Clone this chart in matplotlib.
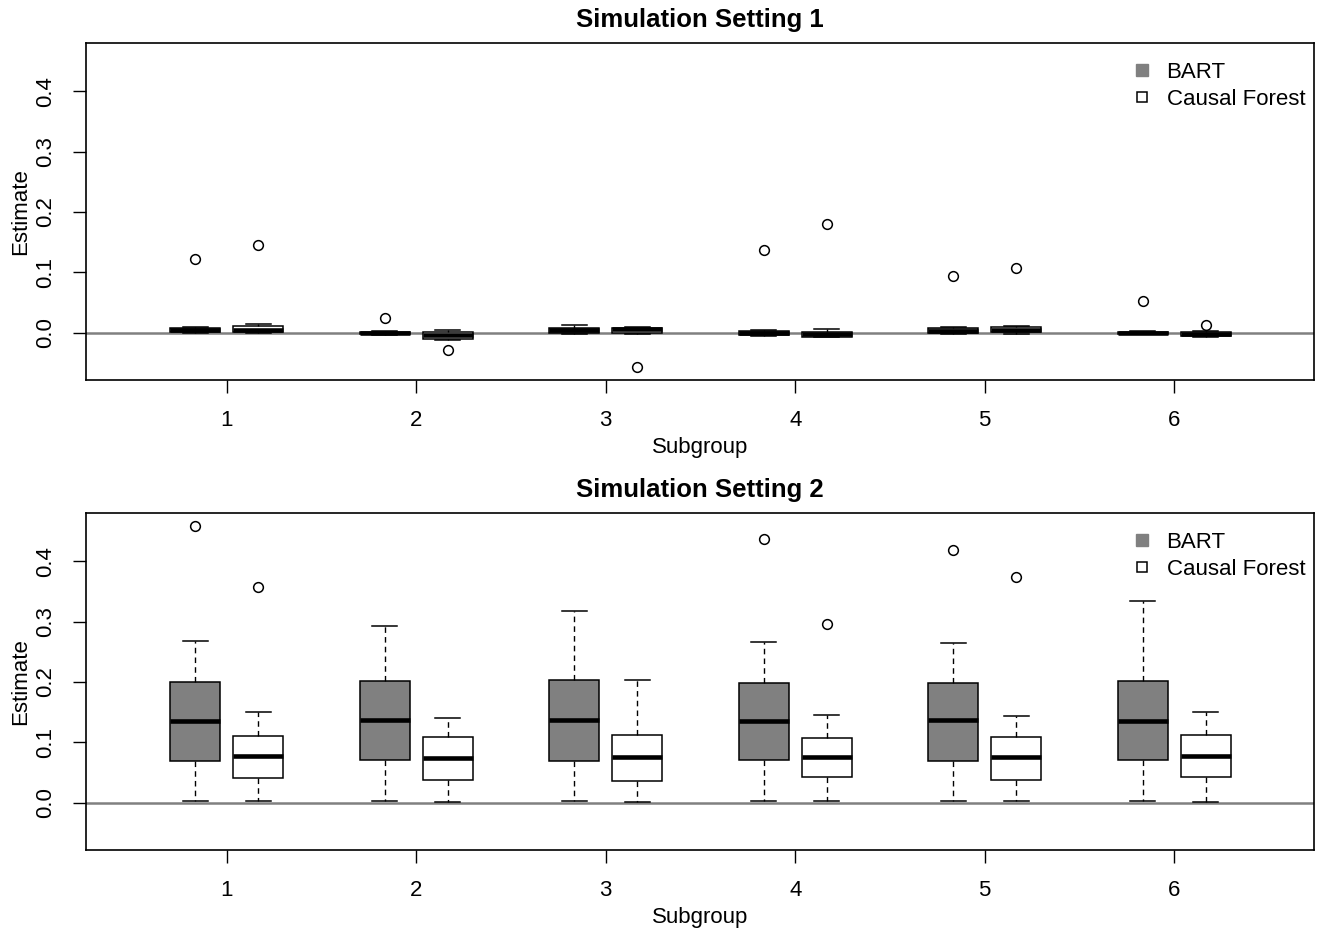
"""Boxplots of subgroup effect estimates for BART and Causal Forest in two simulation settings."""

import matplotlib

matplotlib.use("Agg")
import matplotlib.pyplot as plt
from matplotlib.lines import Line2D

plt.rcParams["font.family"] = ["Liberation Sans", "DejaVu Sans"]

SUBGROUPS = [1, 2, 3, 4, 5, 6]
TITLES = ["Simulation Setting 1", "Simulation Setting 2"]
METHODS = ["BART", "Causal Forest"]
Y_TICKS = [0.0, 0.1, 0.2, 0.3, 0.4]

# five-number summaries per subgroup: (lower whisker, Q1, median, Q3, upper whisker)
S1_BART_FIVENUM = [
    (-0.001, 0.001, 0.004, 0.008, 0.010),
    (-0.004, -0.002, -0.0005, 0.001, 0.003),
    (-0.002, 0.000, 0.0045, 0.008, 0.013),
    (-0.005, -0.004, -0.001, 0.003, 0.004),
    (-0.002, -0.001, 0.003, 0.007, 0.009),
    (-0.002, -0.0017, 0.000, 0.0017, 0.002),
]
S1_CF_FIVENUM = [
    (-0.001, 0.001, 0.005, 0.011, 0.015),
    (-0.013, -0.010, -0.004, 0.001, 0.004),
    (-0.002, 0.000, 0.0056, 0.008, 0.009),
    (-0.0077, -0.0066, -0.0017, 0.0017, 0.0056),
    (-0.0017, 0.0006, 0.005, 0.0094, 0.0105),
    (-0.0072, -0.006, -0.0017, 0.0011, 0.0028),
]
S1_BART_OUTLIERS = [[0.1226], [0.0238], [], [0.1365], [0.094], [0.0525]]
S1_CF_OUTLIERS = [[0.1448], [-0.0292], [-0.0568], [0.1806], [0.1067], [0.0122]]

S2_BART_FIVENUM = [
    (0.0033, 0.0696, 0.1354, 0.2005, 0.2677),
    (0.0033, 0.0708, 0.1376, 0.2017, 0.2928),
    (0.0033, 0.0691, 0.1376, 0.2038, 0.3171),
    (0.0033, 0.0708, 0.1354, 0.1983, 0.2657),
    (0.0033, 0.0691, 0.1370, 0.1989, 0.2641),
    (0.0030, 0.0708, 0.1359, 0.2022, 0.3347),
]
S2_CF_FIVENUM = [
    (0.0023, 0.0414, 0.0779, 0.1100, 0.1508),
    (0.0017, 0.0376, 0.0741, 0.1083, 0.1409),
    (0.0017, 0.0365, 0.0763, 0.1122, 0.2038),
    (0.0023, 0.0420, 0.0752, 0.1066, 0.1448),
    (0.0023, 0.0376, 0.0763, 0.1094, 0.1437),
    (0.0017, 0.0420, 0.0774, 0.1116, 0.1503),
]
S2_BART_OUTLIERS = [[0.4585], [], [], [0.4364], [0.4187], []]
S2_CF_OUTLIERS = [[0.3574], [], [], [0.2961], [0.3740], []]

BART_COLOR = "#808080"
CF_COLOR = "white"
BOX_WIDTH = 0.265
PAIR_OFFSET = 1 / 6
FONT_SIZE = 16


def build_stats(fivenum, outliers):
    """Turn five-number summaries into the dicts that Axes.bxp expects."""
    stats = []
    for (low, q1, med, q3, high), fliers in zip(fivenum, outliers):
        stats.append(
            {"whislo": low, "q1": q1, "med": med, "q3": q3, "whishi": high, "fliers": fliers}
        )
    return stats


def draw_boxes(axis, stats, positions, color):
    axis.bxp(
        stats,
        positions=positions,
        widths=BOX_WIDTH,
        capwidths=BOX_WIDTH / 2,
        patch_artist=True,
        manage_ticks=False,
        boxprops={"facecolor": color, "edgecolor": "black", "linewidth": 1.1},
        medianprops={"color": "black", "linewidth": 3.3, "solid_capstyle": "butt"},
        whiskerprops={"color": "black", "linewidth": 1.0, "linestyle": (0, (4, 3))},
        capprops={"color": "black", "linewidth": 1.1},
        flierprops={
            "marker": "o",
            "markerfacecolor": "none",
            "markeredgecolor": "black",
            "markersize": 7,
            "markeredgewidth": 1.1,
        },
        zorder=3,
    )


def draw_panel(axis, title, bart_stats, cf_stats):
    bart_positions = [s - PAIR_OFFSET for s in SUBGROUPS]
    cf_positions = [s + PAIR_OFFSET for s in SUBGROUPS]

    axis.axhline(0, color="#808080", linewidth=1.8, zorder=1)
    draw_boxes(axis, bart_stats, bart_positions, BART_COLOR)
    draw_boxes(axis, cf_stats, cf_positions, CF_COLOR)

    axis.set_xlim(0.259, 6.736)
    axis.set_ylim(-0.0785, 0.4795)
    axis.set_xticks(SUBGROUPS)
    axis.set_xticklabels([str(s) for s in SUBGROUPS])
    axis.set_yticks(Y_TICKS)
    axis.set_yticklabels([f"{t:.1f}" for t in Y_TICKS], rotation=90, va="center")
    axis.tick_params(length=9.6, width=1.0, labelsize=FONT_SIZE, color="black")
    axis.tick_params(axis="x", pad=12)
    axis.tick_params(axis="y", pad=12)
    for spine in axis.spines.values():
        spine.set_linewidth(1.2)

    axis.set_title(title, fontweight="bold", fontsize=18.5, pad=12)
    axis.set_xlabel("Subgroup", fontsize=FONT_SIZE, labelpad=4)
    axis.set_ylabel("Estimate", fontsize=FONT_SIZE, labelpad=3)

    handles = [
        Line2D([], [], linestyle="none", marker="s", markersize=8,
               markerfacecolor=BART_COLOR, markeredgecolor=BART_COLOR),
        Line2D([], [], linestyle="none", marker="s", markersize=7.5,
               markerfacecolor="white", markeredgecolor="black", markeredgewidth=1.1),
    ]
    axis.legend(
        handles,
        METHODS,
        loc="upper left",
        bbox_to_anchor=(0.8385, 0.99),
        frameon=False,
        fontsize=FONT_SIZE,
        handlelength=1.0,
        handletextpad=0.6,
        labelspacing=0.25,
        borderpad=0.2,
    )


def main():
    figure = plt.figure(figsize=(13.24, 9.32), dpi=100)
    top = figure.add_axes([0.0652, 0.5923, 0.927, 0.3612])
    bottom = figure.add_axes([0.0652, 0.0880, 0.927, 0.3612])

    draw_panel(top, TITLES[0],
               build_stats(S1_BART_FIVENUM, S1_BART_OUTLIERS),
               build_stats(S1_CF_FIVENUM, S1_CF_OUTLIERS))
    draw_panel(bottom, TITLES[1],
               build_stats(S2_BART_FIVENUM, S2_BART_OUTLIERS),
               build_stats(S2_CF_FIVENUM, S2_CF_OUTLIERS))

    figure.savefig("out.png", dpi=100)
    plt.close(figure)


if __name__ == "__main__":
    main()
